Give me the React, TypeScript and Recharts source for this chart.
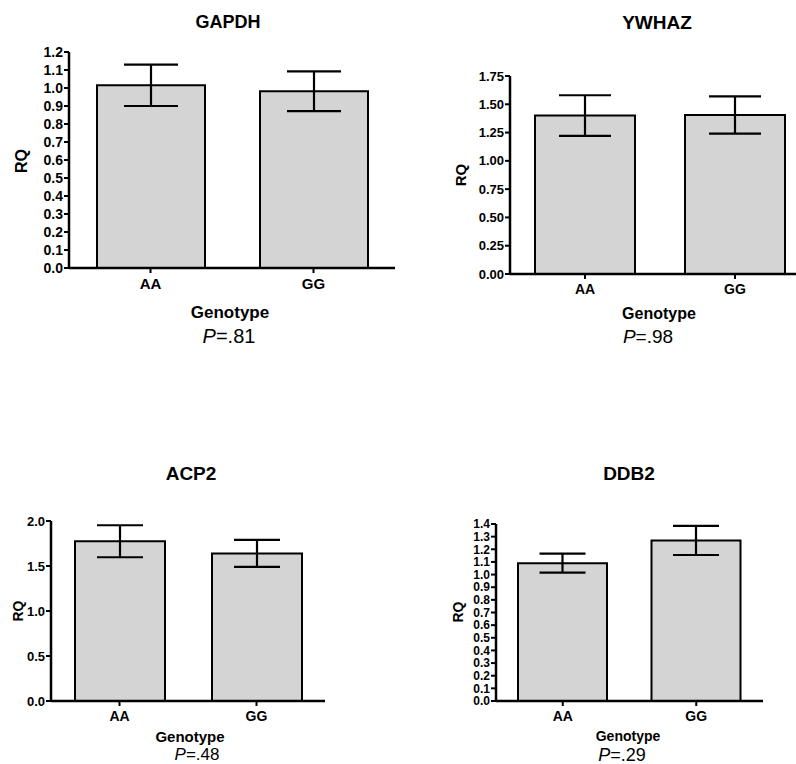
import React from "react";
import { Bar, BarChart, ErrorBar, XAxis, YAxis } from "recharts";

const genotypes = ["AA", "GG"];

const gapdhMean = [1.015, 0.982];
const gapdhSem = [0.115, 0.11];
const gapdhTicks = [0, 0.1, 0.2, 0.3, 0.4, 0.5, 0.6, 0.7, 0.8, 0.9, 1.0, 1.1, 1.2];

const ywhazMean = [1.4, 1.405];
const ywhazSem = [0.18, 0.165];
const ywhazTicks = [0, 0.25, 0.5, 0.75, 1.0, 1.25, 1.5, 1.75];

const acp2Mean = [1.775, 1.64];
const acp2Sem = [0.178, 0.15];
const acp2Ticks = [0, 0.5, 1.0, 1.5, 2.0];

const ddb2Mean = [1.09, 1.27];
const ddb2Sem = [0.075, 0.115];
const ddb2Ticks = [0, 0.1, 0.2, 0.3, 0.4, 0.5, 0.6, 0.7, 0.8, 0.9, 1.0, 1.1, 1.2, 1.3, 1.4];

const font = '"Liberation Sans", Arial, sans-serif';

const rows = (mean: number[], sem: number[]) =>
  genotypes.map((g, i) => ({ genotype: g, rq: mean[i], sem: sem[i] }));

type PanelProps = {
  mean: number[];
  sem: number[];
  ticks: number[];
  digits: number;
  left: number;
  top: number;
  width: number;
  height: number;
  marginTop: number;
  axisWidth: number;
  barSize: number;
  capWidth: number;
  yFont: number;
  xFont: number;
};

function Panel(p: PanelProps) {
  const max = p.ticks[p.ticks.length - 1];
  return (
    <div style={{ position: "absolute", left: p.left, top: p.top }}>
      <BarChart
        width={p.width}
        height={p.height}
        data={rows(p.mean, p.sem)}
        margin={{ top: p.marginTop, right: 0, bottom: 0, left: 0 }}
      >
        <XAxis
          dataKey="genotype"
          height={32}
          axisLine={{ stroke: "#000", strokeWidth: 2.5 }}
          tickLine={{ stroke: "#000", strokeWidth: 2 }}
          tickSize={5}
          tickMargin={5}
          tick={{ fill: "#000", fontSize: p.xFont, fontWeight: "bold", fontFamily: font }}
        />
        <YAxis
          width={p.axisWidth}
          domain={[0, max]}
          ticks={p.ticks}
          interval={0}
          allowDataOverflow
          axisLine={{ stroke: "#000", strokeWidth: 2.5 }}
          tickLine={{ stroke: "#000", strokeWidth: 2 }}
          tickSize={5}
          tickMargin={1}
          tickFormatter={(v) => Number(v).toFixed(p.digits)}
          tick={{ fill: "#000", fontSize: p.yFont, fontWeight: "bold", fontFamily: font }}
        />
        <Bar dataKey="rq" fill="#d4d4d4" stroke="#000" strokeWidth={2} barSize={p.barSize} isAnimationActive={false}>
          <ErrorBar dataKey="sem" direction="y" width={p.capWidth} stroke="#000" strokeWidth={2.2} isAnimationActive={false} />
        </Bar>
      </BarChart>
    </div>
  );
}

function Txt({ x, y, size, bold, rotate, children }: { x: number; y: number; size: number; bold?: boolean; rotate?: boolean; children: React.ReactNode }) {
  return (
    <div
      style={{
        position: "absolute",
        left: x,
        top: y,
        transform: `translate(-50%, -50%)${rotate ? " rotate(-90deg)" : ""}`,
        fontFamily: font,
        fontSize: size,
        fontWeight: bold ? "bold" : "normal",
        lineHeight: 1,
        whiteSpace: "nowrap",
        color: "#000",
      }}
    >
      {children}
    </div>
  );
}

function PVal({ x, y, size, value }: { x: number; y: number; size: number; value: string }) {
  return (
    <Txt x={x} y={y} size={size}>
      <i>P</i>={value}
    </Txt>
  );
}

export default function App() {
  return (
    <div style={{ position: "absolute", left: 0, top: 0, width: 796, height: 764, overflow: "hidden", background: "#fff" }}>
      <Panel mean={gapdhMean} sem={gapdhSem} ticks={gapdhTicks} digits={1} left={0} top={0} width={395} height={300} marginTop={52} axisWidth={69} barSize={108} capWidth={27} yFont={14} xFont={15} />
      <Panel mean={ywhazMean} sem={ywhazSem} ticks={ywhazTicks} digits={2} left={440} top={0} width={370} height={306} marginTop={76} axisWidth={70} barSize={100} capWidth={26} yFont={13} xFont={14} />
      <Panel mean={acp2Mean} sem={acp2Sem} ticks={acp2Ticks} digits={1} left={0} top={440} width={325} height={293} marginTop={81} axisWidth={51} barSize={90} capWidth={23} yFont={13} xFont={14} />
      <Panel mean={ddb2Mean} sem={ddb2Sem} ticks={ddb2Ticks} digits={1} left={440} top={440} width={323} height={293} marginTop={84} axisWidth={56} barSize={89} capWidth={23} yFont={12} xFont={14} />

      <Txt x={228} y={22} size={18} bold>GAPDH</Txt>
      <Txt x={657} y={22} size={19} bold>YWHAZ</Txt>
      <Txt x={191} y={473} size={19} bold>ACP2</Txt>
      <Txt x={629} y={473} size={19} bold>DDB2</Txt>

      <Txt x={22} y={161} size={16} bold rotate>RQ</Txt>
      <Txt x={460} y={175} size={15} bold rotate>RQ</Txt>
      <Txt x={18} y={611} size={14} bold rotate>RQ</Txt>
      <Txt x={458} y={612} size={14} bold rotate>RQ</Txt>

      <Txt x={230} y={312} size={17} bold>Genotype</Txt>
      <Txt x={659} y={314} size={16} bold>Genotype</Txt>
      <Txt x={190} y={736} size={15} bold>Genotype</Txt>
      <Txt x={628} y={736} size={14} bold>Genotype</Txt>

      <PVal x={229} y={336} size={20} value=".81" />
      <PVal x={648} y={336} size={19} value=".98" />
      <PVal x={197} y={754} size={17} value=".48" />
      <PVal x={622} y={755} size={18} value=".29" />
    </div>
  );
}
